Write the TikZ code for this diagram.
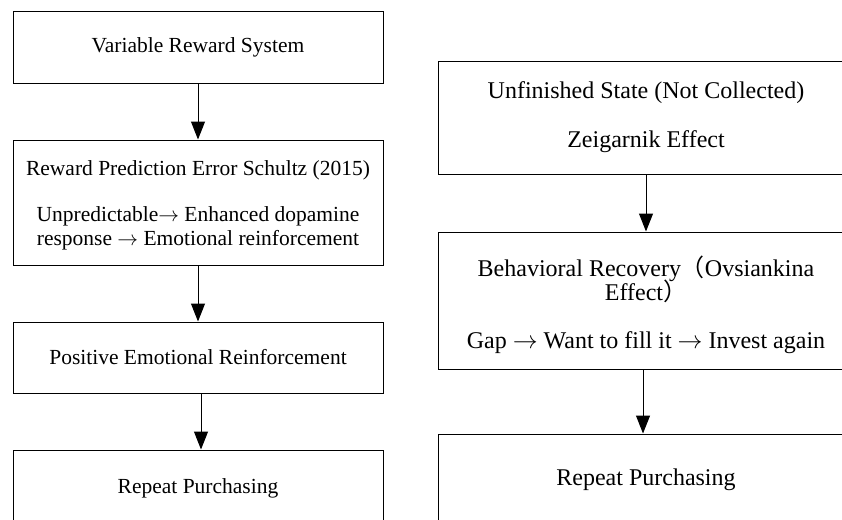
\documentclass[tikz,border=0pt]{standalone}
\usepackage{fontspec}
\setmainfont{Liberation Serif}
\newfontfamily\cjk{Noto Sans CJK SC}
\usetikzlibrary{arrows.meta}
\newcommand{\rarr}{\ensuremath{\rightarrow}}
\newcommand{\fwl}{\smash{\cjk （}}
\newcommand{\fwr}{\smash{\cjk ）}}
\begin{document}
\begin{tikzpicture}[x=1pt,y=-1pt,
  boxL/.style={draw, line width=1pt, minimum width=370pt, inner sep=0pt, align=center,
    font=\fontsize{21.5}{24}\selectfont},
  boxR/.style={draw, line width=1pt, minimum width=416pt, inner sep=0pt, align=center,
    font=\fontsize{24}{24}\selectfont},
  txtL/.style={inner sep=0pt, align=center, font=\fontsize{21.5}{24}\selectfont},
  txtR/.style={inner sep=0pt, align=center, font=\fontsize{24}{24}\selectfont},
  arr/.style={line width=1pt, -{Triangle[length=18pt,width=14pt]}}]
\useasboundingbox (0,0) rectangle (842,519);
\begin{scope}
\clip (0,0) rectangle (842,519);
% left column
\node[boxL, minimum height=71pt]  (L1) at (198,47.5) {Variable Reward System};
\node[boxL, minimum height=125pt] (L2) at (198,202.5) {};
\node[txtL] (L2t) at ([yshift=-3pt]L2.center) {Reward Prediction Error Schultz (2015)\\[22pt]
  Unpredictable\rarr{} Enhanced dopamine\\ response \rarr{} Emotional reinforcement};
\node[boxL, minimum height=71pt]  (L3) at (198,357.5) {Positive Emotional Reinforcement};
\node[boxL, minimum height=76pt]  (L4) at (198,488) {Repeat Purchasing};
% right column
\node[boxR, minimum height=113pt] (R1) at (646,117.5) {Unfinished State (Not Collected)\\[25pt] Zeigarnik Effect};
\node[boxR, minimum height=137pt] (R2) at (646,300.5) {};
\node[txtR] (R2t) at ([yshift=-6pt]R2.center) {Behavioral Recovery\fwl Ovsiankina\\ Effect\fwr\\[24pt]
  Gap \rarr{} Want to fill it \rarr{} Invest again};
\node[boxR, minimum height=92pt]  (R3) at (646,480) {Repeat Purchasing};
% connectors
\draw[arr] (L1.south) -- (L2.north);
\draw[arr] (L2.south) -- (L3.north);
\draw[arr] ([xshift=3pt]L3.south) -- ([xshift=3pt]L4.north);
\draw[arr] (R1.south) -- (R2.north);
\draw[arr] ([xshift=-3pt]R2.south) -- ([xshift=-3pt]R3.north);
\end{scope}
\end{tikzpicture}
\end{document}
